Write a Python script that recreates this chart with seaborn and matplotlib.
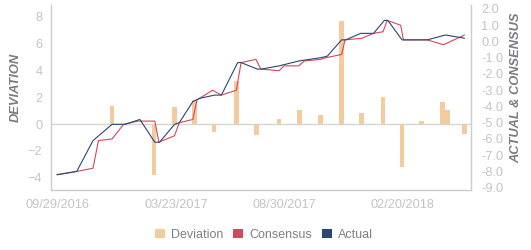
import matplotlib
matplotlib.use("Agg")
import matplotlib.pyplot as plt
import matplotlib.dates as mdates
from matplotlib.patches import Patch
import seaborn as sns
import pandas as pd

# ---------------- data ----------------
actual_dates = ["2016-09-29", "2016-10-28", "2016-11-21", "2016-12-19", "2017-01-07",
                "2017-01-29", "2017-02-20", "2017-02-27", "2017-03-21", "2017-03-28",
                "2017-04-17", "2017-04-27", "2017-05-19", "2017-05-29", "2017-06-22",
                "2017-06-27", "2017-07-21", "2017-07-27", "2017-08-22", "2017-09-20",
                "2017-10-22", "2017-11-01", "2017-11-22", "2017-11-28", "2017-12-20",
                "2018-01-08", "2018-01-24", "2018-01-29", "2018-02-19", "2018-03-28",
                "2018-04-24", "2018-05-22"]
actual_vals = [-8.2, -8.0, -6.1, -5.1, -5.1, -4.8, -6.2, -6.2, -5.1, -5.0,
               -3.7, -3.5, -3.3, -3.3, -1.3, -1.3, -1.7, -1.7, -1.5, -1.2,
               -1.0, -0.9, 0.1, 0.1, 0.5, 0.5, 1.3, 1.3, 0.1, 0.1,
               0.4, 0.2]

consensus_dates = ["2016-09-29", "2016-10-28", "2016-11-21", "2016-11-29", "2016-12-19",
                   "2017-01-05", "2017-01-26", "2017-02-20", "2017-02-26", "2017-03-21",
                   "2017-03-28", "2017-04-17", "2017-04-23", "2017-05-16", "2017-05-29",
                   "2017-06-20", "2017-06-27", "2017-07-19", "2017-07-26", "2017-08-22",
                   "2017-08-29", "2017-09-20", "2017-09-28", "2017-10-22", "2017-10-30",
                   "2017-11-22", "2017-11-27", "2017-12-22", "2018-01-08", "2018-01-22",
                   "2018-01-28", "2018-02-17", "2018-02-21", "2018-03-28", "2018-04-21",
                   "2018-05-22"]
consensus_vals = [-8.2, -8.0, -7.8, -6.1, -6.0, -5.1, -4.9, -4.9, -6.2, -5.8,
                  -5.0, -4.8, -3.6, -3.0, -3.3, -3.0, -1.3, -1.1, -1.7, -1.8,
                  -1.5, -1.5, -1.2, -1.1, -1.0, -0.8, 0.1, 0.2, 0.5, 0.6,
                  1.3, 1.0, 0.1, 0.1, -0.2, 0.4]

deviation_dates = ["2016-12-19", "2017-02-19", "2017-03-21", "2017-04-19", "2017-05-18",
                   "2017-06-20", "2017-07-20", "2017-08-22", "2017-09-21", "2017-10-22",
                   "2017-11-22", "2017-12-21", "2018-01-22", "2018-02-19", "2018-03-20",
                   "2018-04-20", "2018-04-27", "2018-05-22"]
deviation_vals = [1.34, -3.79, 1.26, 1.78, -0.57, 3.22, -0.82, 0.37, 1.04, 0.67,
                  7.66, 0.84, 2.01, -3.17, 0.22, 1.64, 1.04, -0.72]

xtick_labels = ["09/29/2016", "03/23/2017", "08/30/2017", "02/20/2018"]

# ---------------- style ----------------
sns.set_theme(style="white")
plt.rcParams["font.family"] = ["Liberation Sans", "DejaVu Sans"]

C_DEV = "#f4cb9c"
C_CON = "#d5475b"
C_ACT = "#2b4670"
C_TICK = "#c4c4c4"
C_AXIS = "#cccccc"
C_LABEL = "#7a7a82"

df_act = pd.DataFrame({"date": pd.to_datetime(actual_dates), "value": actual_vals})
df_con = pd.DataFrame({"date": pd.to_datetime(consensus_dates), "value": consensus_vals})
df_dev = pd.DataFrame({"date": pd.to_datetime(deviation_dates), "value": deviation_vals})

fig = plt.figure(figsize=(5.31, 2.5), dpi=100)
ax = fig.add_axes([50.7 / 531, 1 - 190.3 / 250, (471 - 50.7) / 531, (190.3 - 5) / 250])
ax2 = ax.twinx()

# bars on left axis
ax.bar(mdates.date2num(df_dev["date"]), df_dev["value"], width=6.9, color=C_DEV,
       linewidth=0, zorder=2)
ax.axhline(0, color="#d6d6d6", linewidth=1.0, zorder=1)

# lines on right axis
sns.lineplot(data=df_con, x="date", y="value", ax=ax2, color=C_CON, linewidth=0.8,
             estimator=None, sort=False)
sns.lineplot(data=df_act, x="date", y="value", ax=ax2, color=C_ACT, linewidth=0.8,
             estimator=None, sort=False)

# limits
x0 = pd.Timestamp("2016-09-29")
ax.set_xlim(mdates.date2num(x0 - pd.Timedelta(days=9.3)),
            mdates.date2num(x0 + pd.Timedelta(days=609.5)))
ax.set_ylim(-4.93, 8.85)
ax2.set_ylim(-9.16, 2.246)

ax.set_yticks([-4, -2, 0, 2, 4, 6, 8])
ax2.set_yticks(list(range(-9, 3)))
ax2.set_yticklabels([f"{v:.1f}" for v in range(-9, 3)])
ax.set_xticks([mdates.date2num(pd.Timestamp(d)) for d in
               ["2016-09-29", "2017-03-23", "2017-08-30", "2018-02-20"]])
ax.set_xticklabels(xtick_labels)

for a in (ax, ax2):
    a.grid(False)
    a.set_xlabel("")
    for s in a.spines.values():
        s.set_visible(False)
ax.spines["left"].set_visible(True)
ax.spines["bottom"].set_visible(True)
ax2.spines["right"].set_visible(True)
for s in (ax.spines["left"], ax.spines["bottom"], ax2.spines["right"]):
    s.set_color(C_AXIS)
    s.set_linewidth(1.0)

ax.tick_params(axis="y", length=0, pad=6, labelsize=9.2, labelcolor=C_TICK)
ax.tick_params(axis="x", length=0, pad=6, labelsize=9.2, labelcolor=C_TICK)
ax2.tick_params(axis="y", length=0, pad=7.5, labelsize=9.2, labelcolor=C_TICK)

ax.set_ylabel("DEVIATION", fontsize=9.3, fontweight="bold", fontstyle="italic",
              color=C_LABEL)
ax2.set_ylabel("ACTUAL & CONSENSUS", fontsize=9.3, fontweight="bold",
               fontstyle="italic", color=C_LABEL)
W = 471 - 50.7
ax.yaxis.set_label_coords(-(50.7 - 21.5) / W, 0.5 + (107 - 97) / 185.3)
ax2.yaxis.set_label_coords(1 + (510.5 - 471) / W, 0.5 + (107 - 97) / 185.3)

ax.set_zorder(1)
ax2.set_zorder(2)
ax2.patch.set_visible(False)

handles = [Patch(facecolor=C_DEV, edgecolor="none", label="Deviation"),
           Patch(facecolor=C_CON, edgecolor="none", label="Consensus"),
           Patch(facecolor=C_ACT, edgecolor="none", label="Actual")]
fig.legend(handles=handles, loc="center", bbox_to_anchor=(264 / 531, 1 - 234.7 / 250),
           ncol=3, frameon=False, fontsize=9, labelcolor="#808088",
           handlelength=0.8, handleheight=0.8, handletextpad=0.5, columnspacing=0.8,
           borderaxespad=0, borderpad=0)

fig.savefig("out.png", dpi=100)
